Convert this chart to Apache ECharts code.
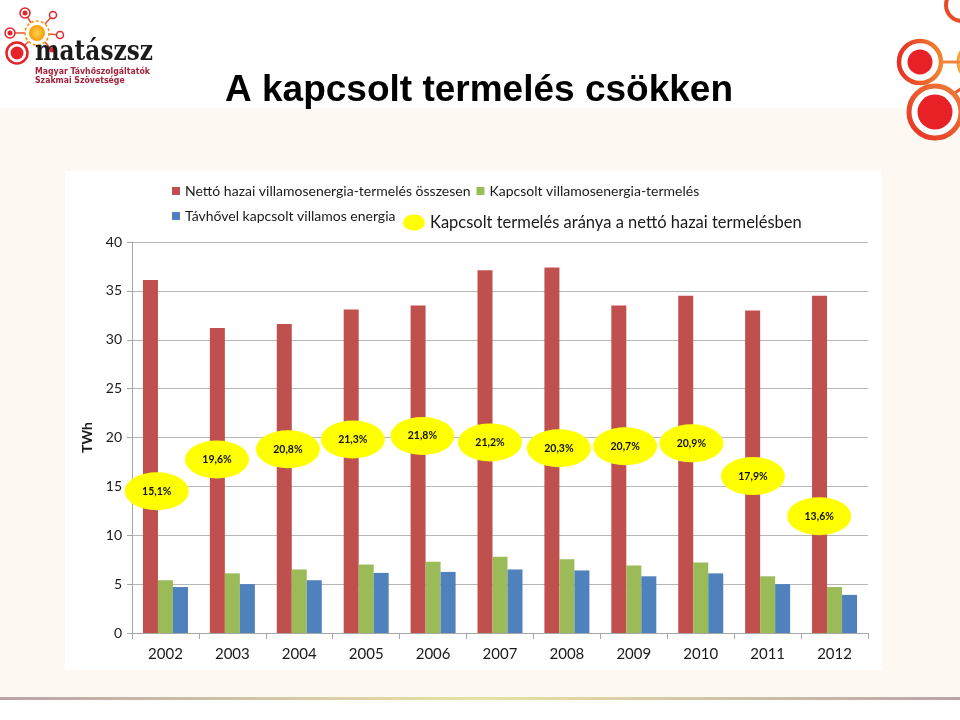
<!DOCTYPE html>
<html><head><meta charset="utf-8">
<script src="https://cdn.jsdelivr.net/npm/echarts/dist/echarts.min.js"></script>
<style>html,body{margin:0;padding:0;background:#fff}#c{width:960px;height:720px}</style>
</head><body><div id="c"></div>
<script>
// ---- data ----
const years = ['2002','2003','2004','2005','2006','2007','2008','2009','2010','2011','2012'];
const netTotal = [36.1, 31.2, 31.6, 33.1, 33.5, 37.1, 37.4, 33.5, 34.5, 33.0, 34.5];
const chpTotal = [5.4, 6.1, 6.5, 7.0, 7.3, 7.8, 7.55, 6.9, 7.2, 5.8, 4.7];
const districtChp = [4.7, 5.0, 5.4, 6.15, 6.25, 6.5, 6.4, 5.8, 6.1, 5.0, 3.9];
const chpShareLabels = ['15,1%','19,6%','20,8%','21,3%','21,8%','21,2%','20,3%','20,7%','20,9%','17,9%','13,6%'];
// where each share bubble sits: TWh level and category position
const bubbleLevel = [14.5, 17.75, 18.8, 19.8, 20.15, 19.5, 18.9, 19.1, 19.4, 16.05, 11.95];
const bubblePos = [0.37, 1.27, 2.33, 3.30, 4.34, 5.35, 6.38, 7.37, 8.36, 9.28, 10.27];
const yMin = 0, yMax = 40, yStep = 5;

const seriesNames = [
  'Nettó hazai villamosenergia-termelés összesen',
  'Kapcsolt villamosenergia-termelés',
  'Távhővel kapcsolt villamos energia',
  'Kapcsolt termelés aránya a nettó hazai termelésben'
];

const FONT = 'Lato, "Open Sans", sans-serif';
const chart = echarts.init(document.getElementById('c'));

const red = '#E4232B', orange = '#F39200';
const logo = [
  // left logo lines
  ...[[25,13],[10,33],[53,15],[60,35],[52,50],[17,53]].map(p => ({
    type:'line', z:50, shape:{x1:37,y1:33,x2:p[0],y2:p[1]}, style:{stroke:'#E8503A', lineWidth:1.5}
  })),
  {type:'circle', z:51, shape:{cx:17,cy:53,r:10.5}, style:{fill:'#fff', stroke:red, lineWidth:2.5}},
  {type:'circle', z:52, shape:{cx:17,cy:53,r:6.5}, style:{fill:red}},
  {type:'circle', z:51, shape:{cx:37,cy:33,r:12}, style:{fill:'#fff', stroke:orange, lineWidth:1.5, lineDash:[3,2]}},
  {type:'circle', z:52, shape:{cx:37,cy:33,r:8}, style:{fill:new echarts.graphic.RadialGradient(0.5,0.5,0.6,[{offset:0,color:'#FFD34A'},{offset:1,color:'#F39200'}])}},
  {type:'circle', z:51, shape:{cx:25,cy:13,r:5}, style:{fill:'#fff', stroke:red, lineWidth:1.5}},
  {type:'circle', z:52, shape:{cx:25,cy:13,r:2.5}, style:{fill:red}},
  {type:'circle', z:51, shape:{cx:10,cy:33,r:5}, style:{fill:'#fff', stroke:red, lineWidth:1.5}},
  {type:'circle', z:52, shape:{cx:10,cy:33,r:2.5}, style:{fill:red}},
  {type:'circle', z:51, shape:{cx:53,cy:15,r:3.5}, style:{fill:'#fff', stroke:red, lineWidth:1.5}},
  {type:'circle', z:51, shape:{cx:60,cy:35,r:3.5}, style:{fill:'#fff', stroke:red, lineWidth:1.5}},
  {type:'circle', z:51, shape:{cx:52,cy:50,r:2.5}, style:{fill:red}},
  {type:'text', z:53, x:35, y:66, scaleX:0.86, style:{text:'matászsz', fill:'#1b1b1b', font:'bold 27px "DejaVu Serif", serif', textVerticalAlign:'bottom'}},
  {type:'text', z:53, x:35, y:77, scaleX:0.82, style:{text:'Magyar Távhőszolgáltatók', fill:'#A3243B', font:'bold 9.5px "DejaVu Sans", sans-serif', textVerticalAlign:'bottom'}},
  {type:'text', z:53, x:35, y:86, scaleX:0.82, style:{text:'Szakmai Szövetsége', fill:'#A3243B', font:'bold 9.5px "DejaVu Sans", sans-serif', textVerticalAlign:'bottom'}},
  // right logo
  {type:'circle', z:50, shape:{cx:962,cy:5,r:16}, style:{fill:'#fff', stroke:'#EA4A25', lineWidth:4}},
  {type:'circle', z:50, shape:{cx:978,cy:62,r:20}, style:{fill:'none', stroke:'#F4A23A', lineWidth:3}},
  {type:'line', z:50, shape:{x1:932,y1:62,x2:960,y2:62}, style:{stroke:'#F0843A', lineWidth:3}},
  {type:'line', z:50, shape:{x1:945,y1:100,x2:962,y2:88}, style:{stroke:'#EA5A30', lineWidth:3}},
  {type:'circle', z:51, shape:{cx:920,cy:62,r:21}, style:{fill:'#fff', stroke:new echarts.graphic.LinearGradient(0,0,1,0,[{offset:0,color:'#E52D24'},{offset:1,color:'#F08A30'}]), lineWidth:4.5}},
  {type:'circle', z:52, shape:{cx:920,cy:62,r:12.5}, style:{fill:'#E82127'}},
  {type:'circle', z:51, shape:{cx:935,cy:112,r:26}, style:{fill:'#fff', stroke:new echarts.graphic.LinearGradient(0,1,1,0,[{offset:0,color:'#E52D24'},{offset:1,color:'#F0843A'}]), lineWidth:5}},
  {type:'circle', z:52, shape:{cx:935,cy:112,r:17.5}, style:{fill:'#E82127'}}
];

const option = {
  backgroundColor: '#ffffff',
  animation: false,
  textStyle: { fontFamily: FONT },
  graphic: [
    {type:'rect', z:-10, shape:{x:0,y:108,width:960,height:590}, style:{fill:'#FDF8F1'}},
    {type:'rect', z:-9, shape:{x:65,y:171,width:817,height:499}, style:{fill:'#ffffff'}},
    {type:'rect', z:-9, shape:{x:0,y:697,width:960,height:3}, style:{fill:new echarts.graphic.LinearGradient(0,0,1,0,[
      {offset:0,color:'#B9A3A8'},{offset:0.5,color:'#E6E3A4'},{offset:1,color:'#B9A3A8'}])}},
    {type:'text', z:60, x:479, y:91, style:{text:'A kapcsolt termelés csökken', fill:'#000', font:'bold 37px "Liberation Sans", Arial, sans-serif', textAlign:'center', textVerticalAlign:'middle'}},
    ...logo
  ],
  legend: [
    { left: 172, top: 184, itemWidth: 8, itemHeight: 8, itemGap: 6, icon: 'rect', padding: 0,
      textStyle: { fontSize: 14, color: '#1a1a1a', fontFamily: FONT },
      data: [seriesNames[0], seriesNames[1]] },
    { left: 172, top: 209, itemWidth: 8, itemHeight: 8, icon: 'rect', padding: 0,
      textStyle: { fontSize: 14, color: '#1a1a1a', fontFamily: FONT },
      data: [seriesNames[2]] },
    { left: 403, top: 214, itemWidth: 22, itemHeight: 16, padding: 0,
      icon: 'path://M0,8A11,8 0 1,0 22,8A11,8 0 1,0 0,8Z',
      textStyle: { fontSize: 16.5, color: '#1a1a1a', fontFamily: FONT },
      data: [seriesNames[3]] }
  ],
  grid: { left: 132, right: 92, top: 242, bottom: 87 },
  xAxis: [
    { type: 'category', data: years, boundaryGap: true,
      axisLine: { lineStyle: { color: '#A6A6A6', width: 1 } },
      axisTick: { show: true, interval: 0, length: 6, lineStyle: { color: '#A6A6A6' } },
      axisLabel: { fontSize: 15, color: '#1a1a1a', margin: 14, fontFamily: FONT },
      splitLine: { show: false } },
    { type: 'value', min: 0, max: years.length, show: false }
  ],
  yAxis: {
    type: 'value', min: yMin, max: yMax, interval: yStep,
    name: 'TWh', nameLocation: 'middle', nameGap: 36, nameRotate: 90,
    nameTextStyle: { fontSize: 14, fontWeight: 'bold', color: '#1a1a1a', fontFamily: FONT },
    axisLine: { show: true, lineStyle: { color: '#A6A6A6' } },
    axisTick: { show: true, length: 5, lineStyle: { color: '#A6A6A6' } },
    axisLabel: { fontSize: 14, color: '#1a1a1a', margin: 10, fontFamily: FONT },
    splitLine: { lineStyle: { color: '#B7B7B7', width: 1 } }
  },
  series: [
    { name: seriesNames[0], type: 'bar', data: netTotal, barWidth: 15, barGap: '0%',
      itemStyle: { color: '#C0504D' } },
    { name: seriesNames[1], type: 'bar', data: chpTotal, barWidth: 15, barGap: '0%',
      itemStyle: { color: '#9BBB59' } },
    { name: seriesNames[2], type: 'bar', data: districtChp, barWidth: 15, barGap: '0%',
      itemStyle: { color: '#4F81BD' } },
    { name: seriesNames[3], type: 'scatter', xAxisIndex: 1, yAxisIndex: 0,
      symbol: 'circle', symbolSize: [64, 38], z: 5,
      itemStyle: { color: '#FFFF00', opacity: 1 },
      label: { show: true, position: 'inside', color: '#111', fontSize: 10.5, fontWeight: 'bold', fontFamily: FONT,
        formatter: p => chpShareLabels[p.dataIndex] },
      data: bubblePos.map((x, i) => [x, bubbleLevel[i]]) }
  ]
};
chart.setOption(option);
</script>
</body></html>
